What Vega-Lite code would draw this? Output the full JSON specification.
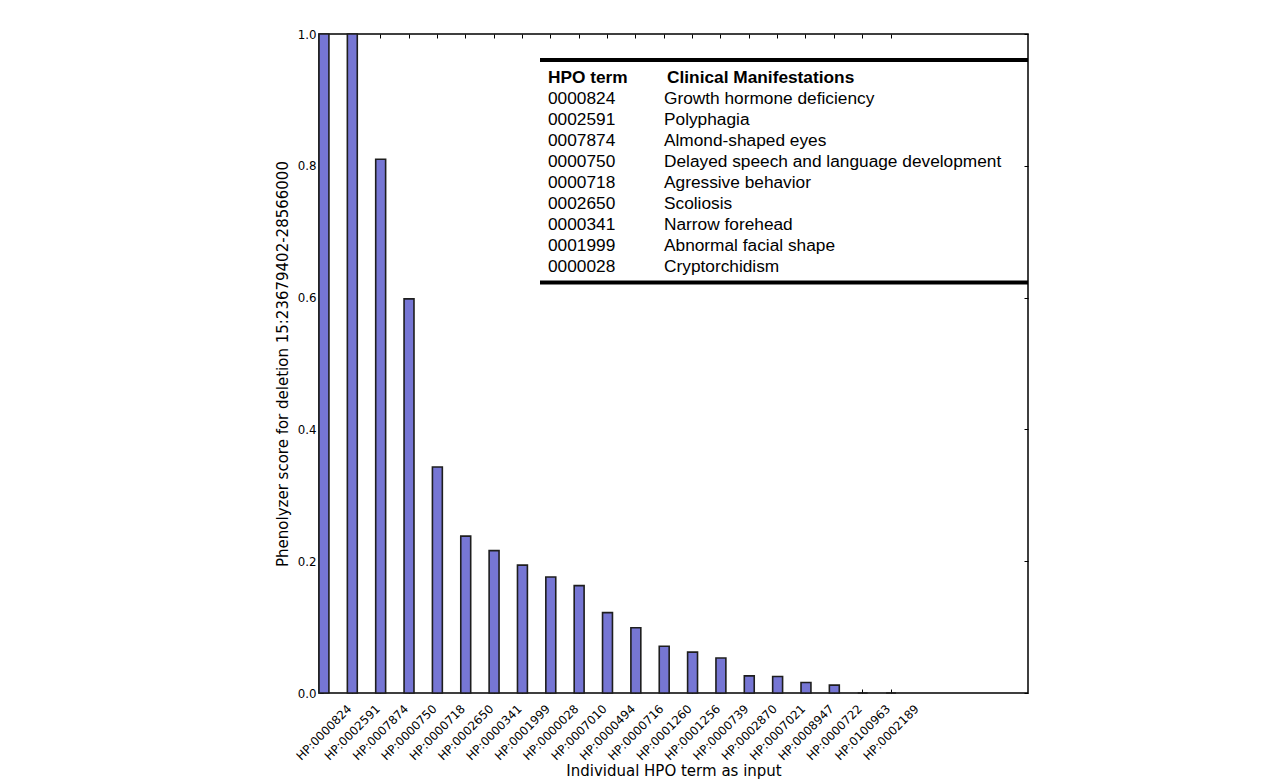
{
  "$schema": "https://vega.github.io/schema/vega-lite/v6.json",
  "width": 709,
  "height": 659,
  "autosize": {"type": "none"},
  "padding": {"left": 319, "top": 34, "right": 259, "bottom": 89},
  "background": "white",
  "config": {
    "view": {"stroke": "#000000", "strokeWidth": 1.5},
    "axis": {
      "labelFont": "DejaVu Sans",
      "titleFont": "DejaVu Sans",
      "labelColor": "#000000",
      "titleColor": "#000000",
      "tickColor": "#000000",
      "labelFontSize": 11.8,
      "titleFontSize": 15,
      "titleFontWeight": "normal",
      "grid": false,
      "domain": false,
      "tickSize": -4,
      "tickWidth": 1
    }
  },
  "datasets": {
    "scores": [
      {"term": "HP:0000824", "score": 1.0},
      {"term": "HP:0002591", "score": 1.0},
      {"term": "HP:0007874", "score": 0.81},
      {"term": "HP:0000750", "score": 0.598},
      {"term": "HP:0000718", "score": 0.343},
      {"term": "HP:0002650", "score": 0.238},
      {"term": "HP:0000341", "score": 0.216},
      {"term": "HP:0001999", "score": 0.194},
      {"term": "HP:0000028", "score": 0.176},
      {"term": "HP:0007010", "score": 0.163},
      {"term": "HP:0000494", "score": 0.122},
      {"term": "HP:0000716", "score": 0.099},
      {"term": "HP:0001260", "score": 0.071},
      {"term": "HP:0001256", "score": 0.062},
      {"term": "HP:0000739", "score": 0.053},
      {"term": "HP:0002870", "score": 0.026},
      {"term": "HP:0007021", "score": 0.025},
      {"term": "HP:0008947", "score": 0.016},
      {"term": "HP:0000722", "score": 0.012},
      {"term": "HP:0100963", "score": 0},
      {"term": "HP:0002189", "score": 0}
    ],
    "table": [
      {"row": 0, "term": "HPO term", "manifestation": "Clinical Manifestations"},
      {"row": 1, "term": "0000824", "manifestation": "Growth hormone deficiency"},
      {"row": 2, "term": "0002591", "manifestation": "Polyphagia"},
      {"row": 3, "term": "0007874", "manifestation": "Almond-shaped eyes"},
      {"row": 4, "term": "0000750", "manifestation": "Delayed speech and language development"},
      {"row": 5, "term": "0000718", "manifestation": "Agressive behavior"},
      {"row": 6, "term": "0002650", "manifestation": "Scoliosis"},
      {"row": 7, "term": "0000341", "manifestation": "Narrow forehead"},
      {"row": 8, "term": "0001999", "manifestation": "Abnormal facial shape"},
      {"row": 9, "term": "0000028", "manifestation": "Cryptorchidism"}
    ]
  },
  "layer": [
    {
      "data": {"name": "scores"},
      "layer": [
        {
          "mark": {"type": "bar", "fill": "#7676d4", "strokeWidth": 0},
          "encoding": {
            "x": {
              "field": "term",
              "type": "nominal",
              "sort": null,
              "scale": {"range": [0, 577], "paddingInner": 0.65, "paddingOuter": 0},
              "axis": {
                "labelAngle": -45,
                "labelAlign": "center",
                "labelBaseline": "middle",
                "labelPadding": 43,
                "labelOverlap": false,
                "labelBound": false,
                "labelFlush": false,
                "title": "Individual HPO term as input",
                "titleX": 354.5,
                "titlePadding": 1
              }
            },
            "y": {
              "field": "score",
              "type": "quantitative",
              "scale": {"domain": [0, 1], "nice": false, "zero": true},
              "axis": {
                "values": [0, 0.2, 0.4, 0.6, 0.8, 1.0],
                "format": ".1f",
                "labelPadding": 7,
                "title": "Phenolyzer score for deletion 15:23679402-28566000",
                "titlePadding": 7
              }
            }
          }
        },
        {
          "mark": {"type": "bar", "filled": false, "stroke": "#1e1e1e", "strokeWidth": 1.6},
          "encoding": {
            "x": {
              "field": "term",
              "type": "nominal",
              "sort": null,
              "axis": {"orient": "top", "labels": false, "title": null}
            },
            "y": {
              "field": "score",
              "type": "quantitative",
              "axis": {"orient": "right", "labels": false, "title": null, "values": [0, 0.2, 0.4, 0.6, 0.8, 1.0]}
            }
          }
        }
      ],
      "resolve": {"axis": {"x": "independent", "y": "independent"}}
    },
    {
      "data": {"name": "table"},
      "layer": [
        {
          "transform": [{"filter": "datum.row > 0"}],
          "mark": {"type": "text", "font": "Liberation Sans", "fontSize": 17.3, "align": "left", "baseline": "middle", "color": "#000000"},
          "encoding": {
            "x": {"datum": 8, "type": "quantitative", "scale": {"domain": [0, 488], "range": [221, 709], "nice": false, "zero": false}, "axis": null},
            "y": {"field": "row", "type": "quantitative", "scale": {"domain": [-0.87, 9.75], "range": [26, 248.5], "nice": false, "zero": false}, "axis": null},
            "text": {"field": "term"}
          }
        },
        {
          "transform": [{"filter": "datum.row > 0"}],
          "mark": {"type": "text", "font": "Liberation Sans", "fontSize": 17.3, "align": "left", "baseline": "middle", "color": "#000000"},
          "encoding": {
            "x": {"datum": 124, "type": "quantitative"},
            "y": {"field": "row", "type": "quantitative"},
            "text": {"field": "manifestation"}
          }
        },
        {
          "transform": [{"filter": "datum.row === 0"}],
          "mark": {"type": "text", "font": "Liberation Sans", "fontSize": 17.3, "fontWeight": "bold", "align": "left", "baseline": "middle", "color": "#000000"},
          "encoding": {
            "x": {"datum": 8, "type": "quantitative"},
            "y": {"field": "row", "type": "quantitative"},
            "text": {"field": "term"}
          }
        },
        {
          "transform": [{"filter": "datum.row === 0"}],
          "mark": {"type": "text", "font": "Liberation Sans", "fontSize": 17.3, "fontWeight": "bold", "align": "left", "baseline": "middle", "color": "#000000"},
          "encoding": {
            "x": {"datum": 127, "type": "quantitative"},
            "y": {"field": "row", "type": "quantitative"},
            "text": {"field": "manifestation"}
          }
        },
        {
          "data": {"values": [{"edge": "top"}]},
          "mark": {"type": "rule", "strokeWidth": 4, "color": "#000000"},
          "encoding": {
            "x": {"datum": 0, "type": "quantitative"},
            "x2": {"datum": 488},
            "y": {"datum": -0.87, "type": "quantitative"}
          }
        },
        {
          "data": {"values": [{"edge": "bottom"}]},
          "mark": {"type": "rule", "strokeWidth": 4, "color": "#000000"},
          "encoding": {
            "x": {"datum": 0, "type": "quantitative"},
            "x2": {"datum": 488},
            "y": {"datum": 9.75, "type": "quantitative"}
          }
        }
      ]
    }
  ],
  "resolve": {"scale": {"x": "independent", "y": "independent"}}
}
